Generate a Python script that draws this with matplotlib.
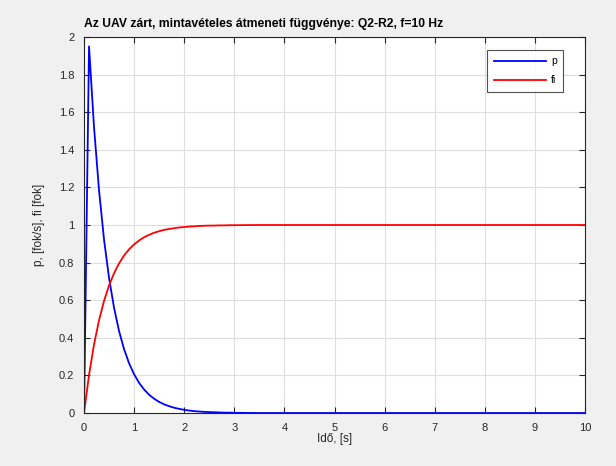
import matplotlib.pyplot as plt
from matplotlib.ticker import FuncFormatter

# sample times (f = 10 Hz), flat part after 3 s kept with a few points
t = [0.0, 0.1, 0.2, 0.3, 0.4, 0.5, 0.6, 0.7, 0.8, 0.9,
     1.0, 1.1, 1.2, 1.3, 1.4, 1.5, 1.6, 1.7, 1.8, 1.9,
     2.0, 2.1, 2.2, 2.3, 2.4, 2.5, 2.6, 2.7, 2.8, 2.9,
     3.0, 3.5, 4.0, 5.0, 6.0, 7.0, 8.0, 9.0, 10.0]

# p [fok/s]
p = [0.0, 1.95, 1.519, 1.183, 0.921, 0.717, 0.559, 0.435, 0.339, 0.264,
     0.206, 0.160, 0.125, 0.097, 0.076, 0.059, 0.046, 0.036, 0.028, 0.022,
     0.017, 0.013, 0.010, 0.008, 0.006, 0.005, 0.004, 0.003, 0.002, 0.002,
     0.001, 0.0, 0.0, 0.0, 0.0, 0.0, 0.0, 0.0, 0.0]

# fi [fok]
fi = [0.0, 0.203, 0.365, 0.494, 0.597, 0.679, 0.744, 0.796, 0.838, 0.871,
      0.897, 0.918, 0.935, 0.948, 0.959, 0.967, 0.974, 0.979, 0.983, 0.987,
      0.989, 0.992, 0.993, 0.995, 0.996, 0.997, 0.997, 0.998, 0.998, 0.999,
      0.999, 1.0, 1.0, 1.0, 1.0, 1.0, 1.0, 1.0, 1.0]

plt.rcParams['font.family'] = ['Liberation Sans', 'DejaVu Sans']

fig = plt.figure(figsize=(6.16, 4.66), dpi=100, facecolor='#f0f0f0')
ax = fig.add_axes([0.1364, 0.1137, 0.8133, 0.8069])
ax.set_facecolor('white')

ax.plot(t, p, color='#0000ff', linewidth=1.3, label='p')
ax.plot(t, fi, color='#ff0000', linewidth=1.3, label='fi')

ax.set_xlim(0, 10)
ax.set_ylim(0, 2)
ax.set_xticks(range(0, 11))
ax.set_yticks([i * 0.2 for i in range(11)])
ax.yaxis.set_major_formatter(FuncFormatter(lambda v, pos: f'{v:g}'))

ax.grid(True, color='#dedede', linewidth=0.8)
ax.set_axisbelow(True)
ax.tick_params(direction='in', top=True, right=True, labelsize=8,
               colors='#262626', length=4, width=0.8, pad=7)
for s in ax.spines.values():
    s.set_color('#262626')
    s.set_linewidth(0.8)

ax.set_title('Az UAV zárt, mintavételes átmeneti függvénye: Q2-R2, f=10 Hz',
             loc='left', fontsize=8.7, fontweight='bold', pad=7)
ax.set_xlabel('Idő, [s]', fontsize=8.5, color='#262626', labelpad=0)
ax.set_ylabel('p, [fok/s], fi [fok]', fontsize=8.5, color='#262626', labelpad=10)

leg = ax.legend(loc='upper right', bbox_to_anchor=(0.956, 0.965),
                borderaxespad=0, fontsize=7.5, fancybox=False,
                edgecolor='#262626', handlelength=5.0, labelspacing=0.85,
                borderpad=0.6, handletextpad=0.5)
leg.get_frame().set_linewidth(0.8)

fig.savefig('out.png', dpi=100, facecolor=fig.get_facecolor())
